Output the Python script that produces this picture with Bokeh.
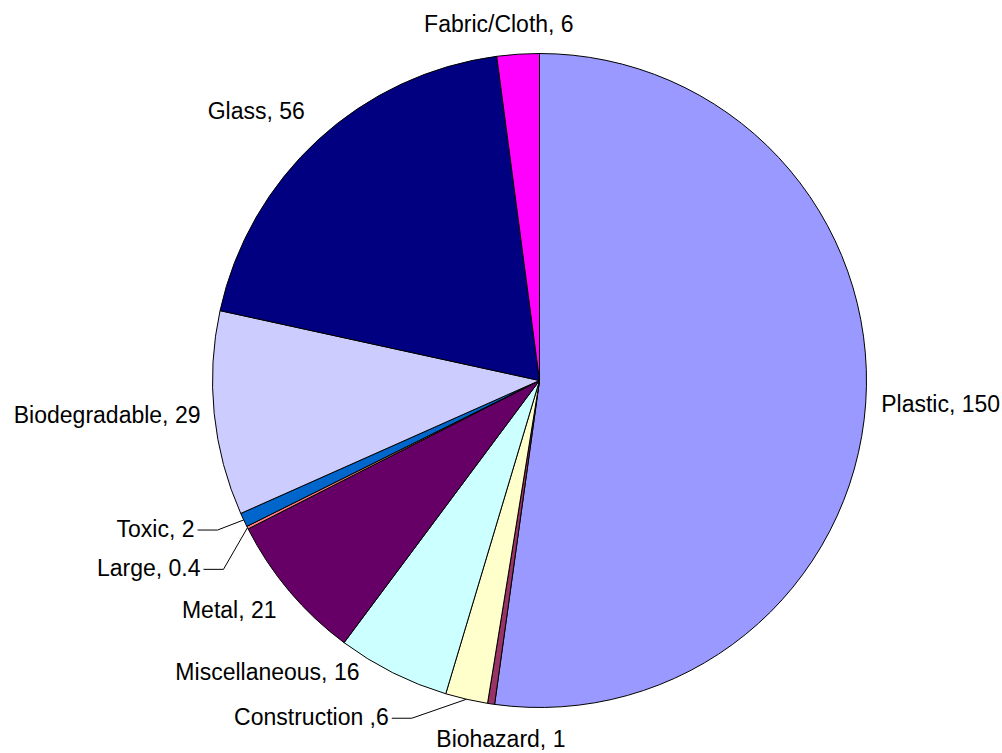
import math
from bokeh.plotting import figure
from bokeh.models import Range1d, ColumnDataSource
from bokeh.core.properties import value
from bokeh.embed import file_html
from bokeh.resources import INLINE

# ---- data ----
categories = ["Plastic", "Biohazard", "Construction", "Miscellaneous", "Metal",
              "Large", "Toxic", "Biodegradable", "Glass", "Fabric/Cloth"]
values = [150, 1, 6, 16, 21, 0.4, 2, 29, 56, 6]
label_texts = ["Plastic, 150", "Biohazard, 1", "Construction ,6", "Miscellaneous, 16",
               "Metal, 21", "Large, 0.4", "Toxic, 2", "Biodegradable, 29",
               "Glass, 56", "Fabric/Cloth, 6"]
colors = ["#9999FF", "#993366", "#FFFFCC", "#CCFFFF", "#660066",
          "#FF8080", "#0066CC", "#CCCCFF", "#000080", "#FF00FF"]

# ---- layout (screen px, y downward) ----
W, H = 1002, 753
CX, CY, R = 539.0, 380.0, 327.0
TEXT_SHIFT = -8.5   # correction for rendered baseline
label_layout = {
    "Plastic":       (15.5, 9.2, "left", False),
    "Biohazard":     (9.8, 43.6, "center", False),
    "Construction":  (-77.7, 26.2, "right", True),
    "Miscellaneous": (-33.2, 7.9, "right", False),
    "Metal":         (-13.0, 27.5, "right", False),
    "Large":         (-47.0, 48.9, "right", True),
    "Toxic":         (-49.2, 17.3, "right", True),
    "Biodegradable": (-13.7, 10.1, "right", False),
    "Glass":         (-13.4, -19.9, "right", False),
    "Fabric/Cloth":  (-19.2, -22.0, "center", False),
}

total = sum(values)
starts, ends, mids = [], [], []
acc = 0.0
for v in values:
    a0 = acc / total * 2 * math.pi
    acc += v
    a1 = acc / total * 2 * math.pi
    starts.append(math.pi / 2 - a0)
    ends.append(math.pi / 2 - a1)
    mids.append((a0 + a1) / 2)

p = figure(width=W, height=H, x_range=Range1d(0, W), y_range=Range1d(-H, 0),
           min_border=0, toolbar_location=None, output_backend="svg",
           x_axis_type=None, y_axis_type=None)
p.outline_line_color = None
p.grid.visible = False
p.background_fill_color = "white"
p.border_fill_color = "white"

src = ColumnDataSource(dict(cat=categories, val=values, start=starts, end=ends, color=colors))
p.wedge(x=CX, y=-CY, radius=R, start_angle="start", end_angle="end", direction="clock",
        fill_color="color", line_color="black", line_width=1, source=src)

groups = {"left": dict(x=[], y=[], t=[]), "center": dict(x=[], y=[], t=[]), "right": dict(x=[], y=[], t=[])}
lxs, lys = [], []
for cat, txt, m in zip(categories, label_texts, mids):
    ex = CX + R * math.sin(m)
    ey = CY - R * math.cos(m)
    dx, dy, align, leader = label_layout[cat]
    lx, ly = ex + dx, ey + dy
    g = groups[align]
    g["x"].append(lx)
    g["y"].append(-(ly + TEXT_SHIFT))
    g["t"].append(txt)
    if leader:
        yy = ly - 7.2
        lxs.append([lx + 3, lx + 23, ex])
        lys.append([-yy, -yy, -ey])

p.multi_line(xs=lxs, ys=lys, line_color="black", line_width=1)

for align, g in groups.items():
    p.text(x=g["x"], y=g["y"], text=g["t"], text_align=align, text_baseline="alphabetic",
           text_font=value("Liberation Sans"), text_font_size="23px", text_color="black")

open("out.html", "w").write(file_html(p, INLINE))
